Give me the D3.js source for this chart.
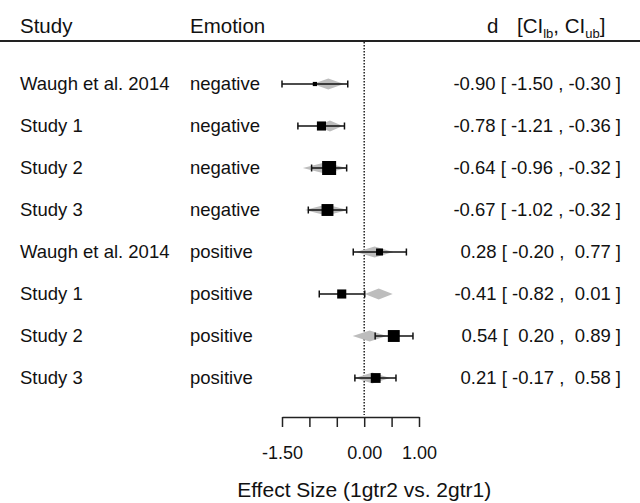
<!DOCTYPE html>
<html>
<head>
<meta charset="utf-8">
<script src="https://cdn.jsdelivr.net/npm/d3@7"></script>
<style>
  body { margin: 0; background: #fff; }
  svg { display: block; font-family: "Liberation Sans", Arial, sans-serif; }
</style>
</head>
<body>
<svg id="forest"></svg>
<script>
const studies  = ['Waugh et al. 2014', 'Study 1', 'Study 2', 'Study 3', 'Waugh et al. 2014', 'Study 1', 'Study 2', 'Study 3']
const emotions = ['negative', 'negative', 'negative', 'negative', 'positive', 'positive', 'positive', 'positive']
const effects  = [-0.90, -0.78, -0.64, -0.67, 0.28, -0.41, 0.54, 0.21]
const ciLow    = [-1.50, -1.21, -0.96, -1.02, -0.20, -0.82, 0.20, -0.17]
const ciHigh   = [-0.30, -0.36, -0.32, -0.32, 0.77, 0.01, 0.89, 0.58]
const weights  = [0.3, 0.65, 1, 0.85, 0.5, 0.65, 0.85, 0.7]
// grey diamonds (lower / upper end)
const predLow  = [-0.94, -0.86, -1.12, -1.08, -0.15, 0.01, -0.21, -0.17]
const predHigh = [-0.37, -0.39, -0.32, -0.30, 0.53, 0.52, 0.41, 0.47]
const tickValues = [-1.5, -1, -0.5, 0, 0.5, 1]
const tickLabels = ['-1.50', '', '', '0.00', '', '1.00']

const width = 640, height = 503

const svg = d3.select('#forest')
    .attr('width', width)
    .attr('height', height)

const x = d3.scaleLinear()
    .domain([-1.5, 1])
    .range([282, 419])

const y = d3.scalePoint()
    .domain(d3.range(studies.length))
    .range([84, 378])

const size = d3.scaleLinear()
    .domain([0, 1])
    .range([0, 14])

// plain hyphen instead of d3's unicode minus
const fmt = (v) => d3.format('.2f')(v).replace('\u2212', '-')
const pad = (v) => (v < 0 ? '' : ' ') + fmt(v)

const rows = studies.map((s, i) => ({
    study: s, emotion: emotions[i], d: effects[i], lb: ciLow[i], ub: ciHigh[i],
    w: weights[i], pl: predLow[i], ph: predHigh[i], i: i
}))

// header
const header = svg.append('g').attr('font-size', 20.5).attr('fill', '#111')
header.append('text').attr('x', 20).attr('y', 33).text('Study')
header.append('text').attr('x', 190).attr('y', 33).text('Emotion')
header.append('text').attr('x', 487).attr('y', 33).text('d')
const ci = header.append('text').attr('x', 517).attr('y', 33)
ci.append('tspan').text('[CI')
ci.append('tspan').attr('font-size', 13).attr('dy', 5).text('lb')
ci.append('tspan').attr('dy', -5).text(', CI')
ci.append('tspan').attr('font-size', 13).attr('dy', 5).text('ub')
ci.append('tspan').attr('dy', -5).text(']')

svg.append('line')
    .attr('x1', 0).attr('x2', width)
    .attr('y1', 41).attr('y2', 41)
    .attr('stroke', '#222').attr('stroke-width', 2)

// zero line
svg.append('line')
    .attr('x1', x(0)).attr('x2', x(0))
    .attr('y1', 42).attr('y2', 415)
    .attr('stroke', '#222').attr('stroke-width', 1.5)
    .attr('stroke-dasharray', '1.5,1.5')

const row = svg.selectAll('g.row')
    .data(rows)
    .enter()
    .append('g')
    .attr('class', 'row')
    .attr('transform', (d) => 'translate(0,' + y(d.i) + ')')

row.append('text')
    .attr('x', 20).attr('dy', '0.35em')
    .attr('font-size', 18.5).attr('fill', '#111')
    .text((d) => d.study)

row.append('text')
    .attr('x', 190).attr('dy', '0.35em')
    .attr('font-size', 18.5).attr('fill', '#111')
    .text((d) => d.emotion)

row.append('text')
    .attr('x', 621).attr('dy', '0.35em')
    .attr('text-anchor', 'end')
    .attr('font-size', 18.5).attr('fill', '#111')
    .style('white-space', 'pre')
    .text((d) => fmt(d.d) + ' [ ' + pad(d.lb) + ' , ' + pad(d.ub) + ' ]')

// grey diamonds
row.append('path')
    .attr('d', (d) => {
        const m = x((d.pl + d.ph) / 2)
        return 'M' + x(d.pl) + ',0L' + m + ',-5.5L' + x(d.ph) + ',0L' + m + ',5.5Z'
    })
    .attr('fill', '#bdbdbd')

// CI lines and caps
row.append('line')
    .attr('x1', (d) => x(d.lb)).attr('x2', (d) => x(d.ub))
    .attr('stroke', '#111').attr('stroke-width', 1.5)
row.selectAll('line.cap')
    .data((d) => [d.lb, d.ub])
    .enter()
    .append('line')
    .attr('class', 'cap')
    .attr('x1', (v) => x(v)).attr('x2', (v) => x(v))
    .attr('y1', -3.5).attr('y2', 3.5)
    .attr('stroke', '#111').attr('stroke-width', 1.5)

// squares
row.append('rect')
    .attr('x', (d) => x(d.d) - size(d.w) / 2)
    .attr('y', (d) => -size(d.w) / 2)
    .attr('width', (d) => size(d.w))
    .attr('height', (d) => size(d.w))
    .attr('fill', '#000')

// axis
const axis = svg.append('g')
    .attr('transform', 'translate(0,417)')
    .call(d3.axisBottom(x)
        .tickValues(tickValues)
        .tickSize(10)
        .tickSizeOuter(0)
        .tickFormat((v, i) => tickLabels[i]))
axis.select('.domain').attr('stroke', '#222').attr('stroke-width', 1.5)
axis.selectAll('.tick line').attr('stroke', '#222').attr('stroke-width', 1.5)
axis.selectAll('.tick text')
    .attr('font-size', 18)
    .attr('fill', '#111')
    .attr('font-family', '"Liberation Sans", Arial, sans-serif')
    .attr('y', 29)

svg.append('text')
    .attr('x', x(0)).attr('y', 497)
    .attr('text-anchor', 'middle')
    .attr('font-size', 21)
    .attr('fill', '#111')
    .text('Effect Size (1gtr2 vs. 2gtr1)')
</script>
</body>
</html>
